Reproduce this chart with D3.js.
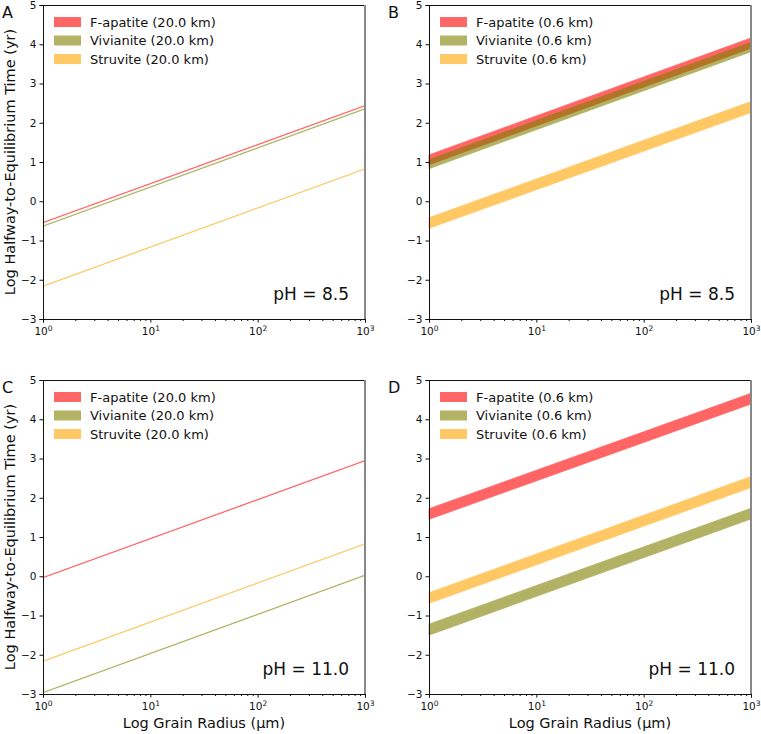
<!DOCTYPE html>
<html>
<head>
<meta charset="utf-8">
<script src="https://cdn.jsdelivr.net/npm/d3@7"></script>
<style>
  body { margin: 0; background: #fff; }
  text { font-family: "DejaVu Sans", sans-serif; fill: #111; }
</style>
</head>
<body>
<svg id="chart" width="761" height="734"></svg>
<script>
// grain radius (um) at which each band is read, [lower, upper] log time
const grainRadius = [1, 1000];
const yTicks = [-3, -2, -1, 0, 1, 2, 3, 4, 5];
const xTicks = [1, 10, 100, 1000];
const minerals = ["F-apatite", "Vivianite", "Struvite"];
const colors = ["#ff0000", "#808000", "#ffa500"];

// panel A: pH 8.5, 20.0 km
const aFapatite = [[-0.55, -0.54], [2.43, 2.44]];
const aVivianite = [[-0.64, -0.63], [2.35, 2.36]];
const aStruvite = [[-2.17, -2.16], [0.82, 0.83]];
// panel B: pH 8.5, 0.6 km
const bFapatite = [[0.93, 1.18], [3.90, 4.16]];
const bVivianite = [[0.83, 1.06], [3.81, 4.05]];
const bStruvite = [[-0.69, -0.42], [2.26, 2.54]];
// panel C: pH 11.0, 20.0 km
const cFapatite = [[-0.04, -0.03], [2.94, 2.95]];
const cVivianite = [[-2.97, -2.96], [0.02, 0.03]];
const cStruvite = [[-2.17, -2.16], [0.82, 0.83]];
// panel D: pH 11.0, 0.6 km
const dFapatite = [[1.45, 1.72], [4.39, 4.66]];
const dVivianite = [[-1.50, -1.22], [1.46, 1.73]];
const dStruvite = [[-0.69, -0.42], [2.26, 2.54]];

const panels = [
  { letter: "A", x: 43, y: 5, depth: "20.0 km", ph: "pH = 8.5", series: [aFapatite, aVivianite, aStruvite], ylab: true, xlab: false },
  { letter: "B", x: 429, y: 5, depth: "0.6 km", ph: "pH = 8.5", series: [bFapatite, bVivianite, bStruvite], ylab: false, xlab: false },
  { letter: "C", x: 43, y: 380, depth: "20.0 km", ph: "pH = 11.0", series: [cFapatite, cVivianite, cStruvite], ylab: true, xlab: true },
  { letter: "D", x: 429, y: 380, depth: "0.6 km", ph: "pH = 11.0", series: [dFapatite, dVivianite, dStruvite], ylab: false, xlab: true },
];

const W = 322, H = 314;
const svg = d3.select("#chart");

const minorTicks = [];
[1, 10, 100].forEach(d => { for (let k = 2; k < 10; k++) minorTicks.push(d * k); });

panels.forEach(p => {
  const x = d3.scaleLog().domain([1, 1000]).range([0, W]);
  const y = d3.scaleLinear().domain([-3, 5]).range([H, 0]);
  const g = svg.append("g").attr("transform", `translate(${p.x},${p.y})`);

  // bands
  p.series.forEach((s, i) => {
    const pts = grainRadius.map((r, j) => ({ r: r, lo: s[j][0], hi: s[j][1] }));
    const area = d3.area().x(d => x(d.r)).y0(d => y(d.lo)).y1(d => y(d.hi));
    g.append("path")
      .datum(pts)
      .attr("d", area)
      .attr("fill", colors[i])
      .attr("stroke", colors[i])
      .attr("stroke-width", 0.8)
      .attr("opacity", 0.6);
  });

  // axes
  const yAxis = d3.axisLeft(y).tickValues(yTicks).tickSize(3.5).tickPadding(3)
    .tickFormat(d => (d < 0 ? "\u2212" + Math.abs(d) : d));
  const ya = g.append("g").call(yAxis);
  ya.selectAll("text").style("font-size", "10.5px");

  const xa = g.append("g").attr("transform", `translate(0,${H})`)
    .call(d3.axisBottom(x).tickValues(xTicks).tickSize(3.5).tickPadding(3).tickFormat(""));
  xa.selectAll(".tick").append("text")
    .attr("y", 16)
    .attr("text-anchor", "middle")
    .style("font-size", "10.5px")
    .each(function (d) {
      const t = d3.select(this);
      t.append("tspan").text("10");
      t.append("tspan").attr("dy", -4).style("font-size", "7.5px").text(Math.round(Math.log10(d)));
    });
  g.append("g").attr("transform", `translate(0,${H})`)
    .call(d3.axisBottom(x).tickValues(minorTicks).tickSize(2).tickFormat(""))
    .select(".domain").remove();

  g.selectAll(".domain").attr("stroke", "#111");
  g.selectAll(".tick line").attr("stroke", "#111");

  // top and right frame
  g.append("line").attr("x1", 0).attr("x2", W).attr("y1", 0.5).attr("y2", 0.5)
    .attr("stroke", "#111").attr("stroke-width", 1);
  g.append("line").attr("x1", W).attr("x2", W).attr("y1", 0).attr("y2", H)
    .attr("stroke", "#888").attr("stroke-width", 2);

  // legend
  minerals.forEach((m, i) => {
    const ly = 17 + i * 18.5;
    g.append("rect").attr("x", 11).attr("y", ly - 5).attr("width", 27).attr("height", 10)
      .attr("fill", colors[i]).attr("opacity", 0.6);
    g.append("text").attr("x", 47).attr("y", ly + 4.5)
      .style("font-size", "13px").text(`${m} (${p.depth})`);
  });

  g.append("text").attr("x", 306).attr("y", 295).attr("text-anchor", "end")
    .style("font-size", "17px").text(p.ph);

  svg.append("text").attr("x", p.x - 41).attr("y", p.y + 13)
    .style("font-size", "16px").text(p.letter);

  if (p.ylab) {
    svg.append("text")
      .attr("transform", `translate(${p.x - 28},${p.y + H / 2}) rotate(-90)`)
      .attr("text-anchor", "middle")
      .style("font-size", "14.5px")
      .text("Log Halfway-to-Equilibrium Time (yr)");
  }
  if (p.xlab) {
    svg.append("text").attr("x", p.x + W / 2).attr("y", p.y + H + 34)
      .attr("text-anchor", "middle")
      .style("font-size", "14.5px")
      .text("Log Grain Radius (\u00b5m)");
  }
});
</script>
</body>
</html>
